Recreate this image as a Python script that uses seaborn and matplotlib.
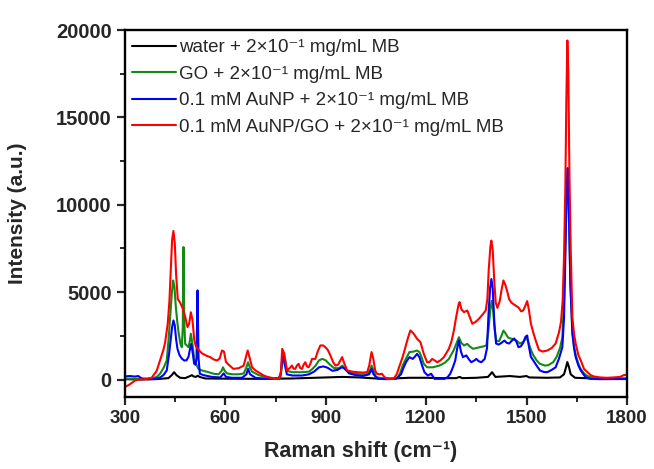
"""
Raman spectra of methylene blue (MB) on different substrates.
"""

import matplotlib
matplotlib.use("Agg")
import matplotlib.pyplot as plt
import seaborn as sns
from matplotlib.ticker import MultipleLocator

# ---------------------------------------------------------------------
#  Data
# ---------------------------------------------------------------------
water_x = [300, 350, 400, 430, 440, 447, 454, 465, 480, 495, 500, 505, 512, 518, 523, 540,
           600, 700, 800, 900, 950, 1000, 1050, 1100, 1150, 1200, 1250, 1290, 1300, 1308,
           1350, 1385, 1397, 1407, 1450, 1480, 1500, 1508, 1560, 1600, 1612, 1618, 1622,
           1627, 1632, 1645, 1700, 1800]
water_y = [20, 0, 30, 80, 250, 420, 250, 100, 80, 200, 250, 180, 150, 220, 150, 60,
           50, 40, 60, 120, 150, 120, 60, 60, 100, 100, 80, 80, 150, 80,
           100, 150, 420, 150, 200, 150, 200, 120, 100, 120, 300, 700, 1000,
           700, 300, 100, 60, 50]

go_x = [300, 340, 380, 395, 405, 415, 425, 431, 436, 440, 444, 448, 452, 456, 461, 466,
        470, 473, 475, 477, 480, 485, 490, 494, 497, 502, 507, 512, 520, 530, 550, 565,
        580, 589, 593, 598, 605, 620, 640, 655, 663, 668, 673, 680, 700, 720, 745, 765,
        769, 773, 778, 784, 800, 830, 850, 860, 870, 880, 890, 900, 910, 925, 940, 950,
        958, 970, 1000, 1025, 1033, 1037, 1043, 1050, 1070, 1100, 1115, 1123, 1130, 1140,
        1150, 1163, 1173, 1180, 1186, 1193, 1203, 1220, 1240, 1255, 1268, 1283, 1290, 1298,
        1305, 1313, 1323, 1330, 1340, 1350, 1360, 1372, 1380, 1386, 1392, 1396, 1400, 1405,
        1410, 1418, 1425, 1431, 1437, 1445, 1452, 1462, 1472, 1480, 1490, 1500, 1506, 1513,
        1520, 1530, 1540, 1555, 1565, 1580, 1590, 1600, 1607, 1612, 1616, 1620, 1623, 1627,
        1631, 1637, 1642, 1647, 1655, 1662, 1672, 1682, 1700, 1750, 1800]
go_y = [50, 40, 60, 150, 330, 650, 1090, 2420, 3800, 4900, 5670, 5300, 4200, 3380, 2600, 2040,
        1850, 3000, 7580, 3500, 2040, 1950, 1850, 2200, 2620, 2000, 1200, 900, 600, 520, 420, 330,
        300, 500, 700, 500, 350, 300, 300, 350, 700, 990, 700, 450, 250, 150, 80, 100,
        800, 1500, 1200, 500, 420, 420, 450, 600, 800, 1100, 1180, 1100, 900, 650, 650, 800,
        600, 400, 300, 300, 550, 800, 500, 150, 60, 40, 100, 400, 800, 1200,
        1570, 1600, 1660, 1570, 1300, 900, 700, 700, 800, 950, 1180, 1700, 2040, 2420,
        2100, 1950, 2040, 1900, 1760, 1800, 1850, 1900, 1950, 2800, 4000, 4500, 4000, 2800,
        2200, 2200, 2500, 2800, 2650, 2400, 2350, 2300, 2200, 2060, 2150, 2400, 2100, 1700,
        1400, 1100, 900, 800, 820, 1000, 1300, 1800, 2400, 4500, 8000, 11000, 11500, 9000,
        5500, 2800, 1900, 1400, 900, 600, 350, 200, 100, 50, 60]

aunp_x = [300, 315, 330, 340, 350, 370, 390, 405, 415, 425, 432, 437, 441, 445, 449, 453,
          457, 463, 470, 477, 484, 490, 494, 498, 502, 507, 511, 514, 517, 520, 524, 535,
          560, 585, 595, 602, 620, 650, 663, 668, 674, 690, 720, 760, 766, 770, 773, 777,
          784, 800, 830, 850, 865, 880, 893, 905, 920, 935, 948, 955, 970, 990, 1010, 1030,
          1037, 1043, 1055, 1080, 1110, 1125, 1133, 1140, 1150, 1160, 1166, 1173, 1180, 1188,
          1195, 1205, 1215, 1225, 1255, 1265, 1272, 1280, 1287, 1293, 1298, 1304, 1310, 1320,
          1328, 1335, 1345, 1350, 1357, 1365, 1375, 1382, 1386, 1391, 1395, 1399, 1404, 1409,
          1417, 1425, 1434, 1441, 1448, 1455, 1463, 1469, 1476, 1483, 1490, 1497, 1502, 1507,
          1513, 1520, 1530, 1540, 1552, 1562, 1575, 1587, 1597, 1603, 1607, 1612, 1616, 1620,
          1623, 1627, 1631, 1637, 1642, 1647, 1655, 1662, 1670, 1677, 1690, 1720, 1800]
aunp_y = [180, 200, 170, 200, 60, 20, 30, 120, 250, 520, 1470, 2300, 3000, 3380, 3100, 2300,
          1760, 1400, 1200, 1090, 1100, 1300, 1700, 2040, 1600, 900, 850, 1200, 5100, 1200, 330, 250,
          150, 120, 350, 150, 100, 100, 300, 610, 300, 100, 40, 40, 400, 1200, 1380, 900,
          300, 230, 230, 300, 450, 700, 750, 680, 500, 550, 700, 650, 350, 250, 200, 300,
          610, 300, 50, 20, 40, 300, 700, 1000, 1280, 1180, 1300, 1470, 1280, 800,
          420, 230, 330, 40, 40, 150, 330, 700, 1090, 1800, 2230, 1600, 1280, 1380,
          1150, 990, 1100, 1180, 1050, 990, 1180, 1800, 3570, 5200, 5750, 5200, 3200, 2060,
          2000, 2100, 2230, 2100, 2060, 2200, 2350, 2200, 1850, 1900, 2100, 2450, 2520, 1900,
          1300, 1090, 800, 520, 430, 420, 550, 700, 1200, 1600, 1850, 3500, 7000, 11000,
          12100, 9500, 5500, 2620, 1800, 1280, 800, 520, 300, 130, 40, 20, 30]

aunp_go_x = [300, 310, 320, 330, 340, 360, 380, 395, 405, 415, 420, 428, 433, 437, 441, 445,
             449, 453, 458, 465, 472, 480, 487, 492, 497, 502, 507, 512, 520, 530, 545, 555,
             565, 575, 583, 590, 596, 602, 610, 624, 640, 655, 663, 667, 672, 680, 690, 705,
             715, 730, 745, 760, 766, 770, 776, 784, 792, 799, 804, 809, 814, 819, 824, 829,
             834, 839, 844, 849, 854, 859, 869, 876, 884, 892, 899, 906, 914, 922, 929, 937,
             944, 949, 954, 964, 980, 994, 1010, 1024, 1030, 1037, 1042, 1048, 1053, 1060, 1068, 1075,
             1083, 1095, 1103, 1112, 1123, 1130, 1138, 1146, 1153, 1163, 1173, 1183, 1188, 1193, 1203, 1210,
             1218, 1225, 1233, 1243, 1253, 1260, 1268, 1276, 1283, 1290, 1297, 1300, 1306, 1313, 1318, 1323,
             1330, 1338, 1348, 1358, 1368, 1378, 1383, 1387, 1392, 1395, 1399, 1404, 1408, 1413, 1420, 1426,
             1431, 1437, 1443, 1448, 1455, 1462, 1470, 1477, 1484, 1490, 1496, 1502, 1507, 1513, 1520, 1528,
             1537, 1548, 1562, 1575, 1587, 1597, 1603, 1608, 1612, 1616, 1619, 1622, 1625, 1628, 1632, 1637,
             1642, 1647, 1655, 1662, 1672, 1682, 1692, 1702, 1720, 1740, 1760, 1780, 1790, 1800]
aunp_go_y = [-420, -330, -200, -60, 0, 20, 100, 500, 1100, 1700, 2100, 3200, 4500, 6200, 8000, 8500,
             7800, 6000, 4600, 4400, 4100, 3600, 3000, 3200, 3850, 3400, 2300, 1900, 1700, 1500, 1350, 1280,
             1150, 1090, 1200, 1660, 1600, 1000, 850, 610, 650, 800, 1400, 1660, 1300, 700, 520, 350,
             230, 120, 40, 40, 400, 1760, 1500, 520, 650, 800, 620, 610, 800, 900, 650, 610,
             850, 990, 750, 700, 900, 1180, 1180, 1600, 1950, 1950, 1850, 1700, 1380, 1000, 800, 850,
             1100, 1280, 1000, 520, 450, 420, 400, 420, 800, 1570, 1200, 500, 330, 300, 330, 150,
             40, 30, 40, 300, 900, 1300, 1850, 2400, 2810, 2620, 2330, 2140, 1800, 1470, 990, 1000,
             1180, 1100, 990, 1100, 1280, 1500, 1760, 2200, 2810, 3600, 4300, 4430, 4000, 3860, 3900, 3950,
             3600, 3190, 3300, 3480, 3700, 3950, 4600, 6250, 7600, 7950, 7400, 5500, 4400, 4100, 4500, 5200,
             5670, 5400, 5000, 4600, 4400, 4300, 4200, 4100, 3900, 3950, 4200, 4490, 4000, 3200, 2700, 2200,
             1700, 1600, 1660, 1800, 2060, 2700, 3300, 4500, 7000, 11000, 16000, 19400, 17500, 12000, 7500, 3570,
             2600, 2040, 1400, 1090, 600, 420, 250, 170, 120, 100, 120, 150, 250, 280]

labels = [
    "water + 2\u00d710\u207b\u00b9 mg/mL MB",
    "GO + 2\u00d710\u207b\u00b9 mg/mL MB",
    "0.1 mM AuNP + 2\u00d710\u207b\u00b9 mg/mL MB",
    "0.1 mM AuNP/GO + 2\u00d710\u207b\u00b9 mg/mL MB",
]
colors = ["#000000", "#138a13", "#0000ff", "#ff0000"]

# ---------------------------------------------------------------------
#  Style
# ---------------------------------------------------------------------
sns.set_style("ticks")
plt.rcParams["font.family"] = ["Liberation Sans", "DejaVu Sans"]
plt.rcParams["axes.linewidth"] = 1.7

fig = plt.figure(figsize=(6.54, 4.69), dpi=100)
ax = fig.add_axes([0.191, 0.1535, 0.7676, 0.7825])

series = [(water_x, water_y), (go_x, go_y), (aunp_x, aunp_y), (aunp_go_x, aunp_go_y)]
for (xs, ys), lab, col in zip(series, labels, colors):
    sns.lineplot(x=xs, y=ys, ax=ax, color=col, label=lab, linewidth=1.5, sort=False)

ax.set_xlim(300, 1800)
ax.set_ylim(-1000, 20000)
ax.xaxis.set_major_locator(MultipleLocator(300))
ax.xaxis.set_minor_locator(MultipleLocator(150))
ax.yaxis.set_major_locator(MultipleLocator(5000))
ax.yaxis.set_minor_locator(MultipleLocator(2500))
ax.tick_params(which="major", length=5.5, width=1.6, pad=4)
ax.tick_params(which="minor", length=3.5, width=1.4)
ax.tick_params(axis="x", which="major", labelsize=13.5)
ax.tick_params(axis="y", which="major", labelsize=14.5)
for lbl in ax.get_xticklabels() + ax.get_yticklabels():
    lbl.set_fontweight("bold")

for side in ["top", "right", "left", "bottom"]:
    ax.spines[side].set_visible(True)
    ax.spines[side].set_color("black")

ax.set_xlabel("Raman shift (cm\u207b\u00b9)", fontsize=15.5, fontweight="bold")
ax.set_ylabel("Intensity (a.u.)", fontsize=15, fontweight="bold")
ax.xaxis.set_label_coords(0.47, -0.12)
ax.yaxis.set_label_coords(-0.195, 0.5)

ax.legend(loc="upper left", frameon=False, fontsize=13.5, handlelength=2.35,
          handletextpad=0.15, labelspacing=0.5, borderaxespad=0.0,
          bbox_to_anchor=(0.0, 0.995))

fig.savefig("out.png", dpi=100)
